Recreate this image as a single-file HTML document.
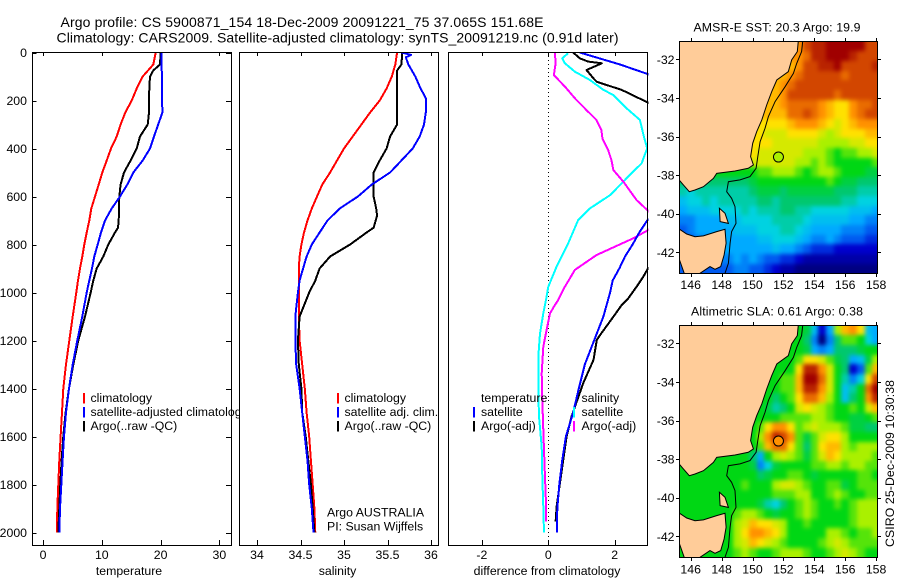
<!DOCTYPE html>
<html lang="en">
<head>
<meta charset="utf-8">
<title>Argo profile CS 5900871_154</title>
<style>
html,body{margin:0;padding:0;background:#fff;}
svg{display:block;}
text{font-family:"Liberation Sans",sans-serif;font-size:12.3px;fill:#000;}
.title{font-size:14px;}
.mid{text-anchor:middle;}
.end{text-anchor:end;}
</style>
</head>
<body>
<svg id="chart" xmlns="http://www.w3.org/2000/svg" width="900" height="580" viewBox="0 0 900 580">
  <defs>
    <clipPath id="clip-t"><rect x="32" y="52" width="199.5" height="493.5"/></clipPath>
    <clipPath id="clip-s"><rect x="239" y="52" width="200.5" height="493.5"/></clipPath>
    <clipPath id="clip-d"><rect x="448" y="52" width="200.5" height="493.5"/></clipPath>
    <clipPath id="clip-m1"><rect x="679" y="41.5" width="198.5" height="232"/></clipPath>
    <clipPath id="clip-m2"><rect x="679" y="325.5" width="198.5" height="232"/></clipPath>
    <filter id="field-smooth" filterUnits="userSpaceOnUse" x="650" y="15" width="250" height="565" color-interpolation-filters="sRGB">
      <feGaussianBlur stdDeviation="2.2"/>
    </filter>
  </defs>
  <rect x="0" y="0" width="900" height="580" fill="#fff"/>
  <text class="title" x="60.5" y="27" textLength="483">Argo profile: CS 5900871_154 18-Dec-2009 20091221_75 37.065S 151.68E</text>
  <text class="title" x="56.5" y="42.5" textLength="562">Climatology: CARS2009. Satellite-adjusted climatology: synTS_20091219.nc (0.91d later)</text>

  <g id="panel-t"></g>
  <g>
    <rect x="83" y="393" width="2" height="10.5" fill="#ff0000"/>
    <rect x="83" y="407" width="2" height="10.5" fill="#0000ff"/>
    <rect x="83" y="421" width="2" height="10.5" fill="#000"/>
    <text x="90.5" y="402">climatology</text>
    <text x="90.5" y="416">satellite-adjusted climatology</text>
    <text x="90.5" y="430">Argo(..raw -QC)</text>
  </g>

  <g id="panel-s"></g>
  <g>
    <rect x="337" y="393" width="2" height="10.5" fill="#ff0000"/>
    <rect x="337" y="407" width="2" height="10.5" fill="#0000ff"/>
    <rect x="337" y="421" width="2" height="10.5" fill="#000"/>
    <text x="344.5" y="402">climatology</text>
    <text x="344.5" y="416">satellite adj. clim.</text>
    <text x="344.5" y="430">Argo(..raw -QC)</text>
    <text x="327" y="516.5">Argo AUSTRALIA</text>
    <text x="327" y="530.5">PI: Susan Wijffels</text>
  </g>

  <g id="panel-d"></g>
  <g>
    <rect x="473" y="407" width="2" height="10.5" fill="#0000ff"/>
    <rect x="473" y="421" width="2" height="10.5" fill="#000"/>
    <rect x="573" y="407" width="2" height="10.5" fill="#00ffff"/>
    <rect x="573" y="421" width="2" height="10.5" fill="#ff00ff"/>
    <text x="481" y="402">temperature</text>
    <text x="481" y="416">satellite</text>
    <text x="481" y="430">Argo(-adj)</text>
    <text x="581.5" y="402">salinity</text>
    <text x="581.5" y="416">satellite</text>
    <text x="581.5" y="430">Argo(-adj)</text>
  </g>

  <g id="map-sst"></g>
  <g id="map-sla"></g>
  <text transform="translate(894,547) rotate(-90)" textLength="167">CSIRO 25-Dec-2009 10:30:38</text>
</svg>
<script>
// Depth levels shared by the temperature and salinity profiles (metres)
const depthLevels = [0,50,100,150,200,250,300,350,400,450,500,550,600,650,700,750,800,850,900,950,1000,1100,1200,1300,1400,1500,1600,1700,1800,1900,2000];

// Temperature profiles
const tempClimatology = [19.16,18.76,16.95,15.93,15.08,14.0,13.2,12.53,11.56,10.83,10.09,9.47,8.84,8.22,7.88,7.43,7.03,6.69,6.29,5.95,5.67,5.05,4.48,3.91,3.46,3.23,3.0,2.78,2.61,2.44,2.38];
const tempSatellite = [20.18,20.18,20.2,20.22,20.25,20.3,19.6,18.88,18.2,16.95,15.36,14.34,13.1,11.68,10.54,9.86,9.3,8.73,8.33,7.88,7.43,6.69,5.84,5.05,4.42,3.91,3.57,3.34,3.12,2.89,2.78];
const tempArgoDepth = [0,50,75,100,150,200,250,300,350,400,450,500,550,600,650,700,730,750,800,850,900,950,1000,1100,1200,1300,1400,1500,1600,1700,1800,1900,2000];
const tempArgo = [20.0,19.9,18.76,18.2,18.08,18.03,18.03,17.8,16.5,15.93,14.9,13.78,13.2,12.98,12.93,12.87,12.76,12.24,11.11,10.26,9.13,8.56,8.11,7.14,6.0,5.16,4.42,3.85,3.46,3.17,2.95,2.78,2.61];

// Salinity profiles
const salClimatology = [35.61,35.59,35.55,35.49,35.41,35.3,35.2,35.1,35.0,34.92,34.84,34.75,34.69,34.63,34.58,34.54,34.51,34.49,34.48,34.48,34.48,34.48,34.49,34.52,34.55,34.57,34.6,34.62,34.64,34.66,34.67];
const salSatDepth = [0,10,20,50,100,150,190,250,300,350,400,450,500,550,600,650,700,750,800,850,900,950,1000,1100,1200,1300,1400,1500,1600,1700,1800,1900,2000];
const salSatellite = [35.66,35.77,35.71,35.74,35.82,35.88,35.94,35.94,35.92,35.87,35.79,35.66,35.53,35.32,35.16,34.95,34.81,34.72,34.63,34.57,34.53,34.49,34.47,34.44,34.44,34.45,34.49,34.52,34.55,34.58,34.6,34.63,34.65];
const salArgoDepth = [0,50,75,150,200,250,300,350,400,450,500,550,600,650,680,730,750,800,850,900,950,1000,1100,1200,1300,1400,1500,1600,1700,1800,1900,2000];
const salArgo = [35.67,35.66,35.61,35.61,35.61,35.61,35.61,35.53,35.49,35.41,35.34,35.34,35.34,35.37,35.38,35.34,35.26,35.07,34.84,34.72,34.67,34.6,34.49,34.47,34.48,34.51,34.52,34.56,34.59,34.62,34.64,34.66];

// Differences from climatology
const diffTempSatDepth = [0,50,90,100,150,200,250,300,350,400,450,500,550,600,650,700,750,800,850,900,950,1000,1100,1200,1300,1400,1500,1600,1700,1800,1900,2000];
const diffTempSat = [0.95,2.16,3.0,3.2,4.37,5.12,6.3,6.0,6.35,6.64,6.12,5.27,4.87,4.26,3.46,2.98,2.74,2.54,2.31,2.14,1.94,1.86,1.66,1.38,1.1,0.92,0.75,0.53,0.42,0.33,0.27,0.26];
const diffTempArgoDepth = [0,24,38,45,73,108,122,156,209,300,500,800,900,934,976,1024,1052,1101,1177,1198,1281,1378,1517,1601,1700,1795,1893,1955];
const diffTempArgo = [0.75,0.95,1.2,1.61,1.15,1.36,1.46,2.21,3.01,4.6,3.7,4.1,3.0,2.86,2.66,2.41,2.21,1.96,1.56,1.46,1.36,1.05,0.7,0.55,0.45,0.35,0.25,0.22];
const diffSalSatDepth = [3,24,45,80,115,156,177,233,281,351,399,462,503,545,594,649,698,795,892,976,1031,1087,1171,1267,1406,1517,1643,1767,1893,2000];
const diffSalSat = [0.6,0.42,0.5,0.8,1.26,1.66,1.96,2.36,2.76,2.88,2.98,2.81,2.51,2.21,1.86,1.26,0.9,0.6,0.25,0,-0.07,-0.15,-0.25,-0.3,-0.3,-0.28,-0.2,-0.18,-0.15,-0.13];
const diffSalArgoDepth = [1,45,94,142,191,240,281,323,358,406,448,490,538,615,660,700,740,774,844,906,976,1031,1052,1087,1156,1226,1337,1448,1573,1726,1879,1955];
const diffSalArgo = [0.2,0.22,0.17,0.5,0.8,1.15,1.45,1.6,1.63,1.8,1.9,1.96,2.26,2.66,3.01,3.3,3.01,2.56,1.45,0.8,0.5,0.3,0.2,0.05,-0.05,-0.15,-0.2,-0.18,-0.15,-0.11,-0.07,-0.07];

// Tick labels
const depthTicks = [0,200,400,600,800,1000,1200,1400,1600,1800,2000];
const tempTicks = [0,10,20,30];
const salTicks = ["34","34.5","35","35.5","36"];
const diffTicks = [-2,0,2];
const lonTicks = [146,148,150,152,154,156,158];
const latTicks = [-32,-34,-36,-38,-40,-42];

// Map fields: colour level per half-degree cell, rows north to south, columns west to east
const sstLevels = [
[18,18,18,18,18,18,18,18,18,18,18,18,18,18,18,18,20,21,21,22,22,22,22,22,20,20],
[18,18,18,18,18,18,18,18,18,18,18,18,18,18,18,18,19,21,21,22,22,22,21,20,20,20],
[18,18,18,18,18,18,18,18,18,18,18,18,18,18,17,18,20,20,21,21,22,20,20,20,20,21],
[17,17,17,17,17,17,17,17,17,17,17,17,17,17,18,19,20,20,20,20,20,19,20,20,20,20],
[17,17,17,17,17,17,17,17,17,17,17,17,17,18,19,20,20,20,20,20,20,20,20,20,20,20],
[17,17,17,17,17,17,17,17,17,17,17,17,17,18,20,20,20,20,20,20,19,20,20,20,20,20],
[17,17,17,17,17,17,17,17,17,17,17,17,17,18,19,19,19,19,18,17,16,16,18,19,19,20],
[17,17,17,17,17,17,17,17,17,17,17,17,17,17,19,19,20,19,18,17,16,16,18,19,20,20],
[16,16,16,16,16,16,16,16,16,16,16,16,16,16,17,18,18,18,17,16,15,16,17,18,18,18],
[16,16,16,16,16,16,16,16,16,16,16,15,15,15,16,16,16,16,15,14,15,16,16,16,17,17],
[16,16,16,16,16,16,16,16,16,16,16,16,15,15,15,15,15,15,14,14,14,14,15,15,16,16],
[15,15,15,15,15,15,15,15,15,16,15,15,15,15,15,15,14,14,14,13,12,13,13,14,14,15],
[15,15,15,15,15,15,15,15,15,15,15,15,15,15,15,14,14,13,14,13,12,12,12,12,12,13],
[12,12,12,12,12,12,12,12,12,12,13,13,14,14,14,13,12,13,14,14,13,12,12,12,11,11],
[10,10,10,10,10,10,10,10,10,11,12,12,12,12,12,12,12,12,12,13,12,11,11,10,10,10],
[9,8,9,9,9,9,9,9,9,10,11,11,11,10,11,11,11,11,11,11,10,10,10,9,9,9],
[7,8,8,9,8,9,9,9,9,9,10,10,9,10,10,10,10,10,10,10,10,9,9,8,8,8],
[6,7,7,7,8,8,8,8,9,8,9,9,9,10,10,9,9,8,8,8,8,8,7,7,7,6],
[5,5,6,6,6,6,7,7,8,8,8,8,9,9,9,9,8,7,7,7,7,7,6,6,5,5],
[4,5,6,6,6,6,6,7,7,7,8,8,8,9,9,8,7,6,6,6,6,5,5,5,4,4],
[4,4,5,5,6,6,6,6,6,6,7,7,8,8,8,7,6,5,5,6,5,4,4,4,3,3],
[6,6,6,6,6,6,6,6,6,6,6,6,7,6,6,5,4,3,3,3,2,2,2,2,2,2],
[5,5,5,5,5,5,5,6,5,6,5,4,4,3,3,2,1,1,1,1,1,1,1,1,1,1],
[4,4,4,4,4,4,4,5,5,4,4,3,2,1,1,0,0,0,0,0,0,0,0,0,0,0]
];
const slaLevels = [
[12,12,12,12,12,12,12,12,12,12,12,12,12,12,12,12,11,7,2,6,14,17,18,16,7,6],
[12,12,12,12,12,12,12,12,12,12,12,12,12,12,12,12,10,5,0,5,10,13,13,12,8,6],
[12,12,12,12,12,12,12,12,12,12,12,12,12,12,12,12,11,6,5,6,10,10,10,11,12,12],
[12,12,12,12,12,12,12,12,12,12,12,12,12,12,12,13,16,16,15,13,11,10,6,7,11,14],
[12,12,12,12,12,12,12,12,12,12,12,12,12,12,12,16,21,21,18,15,12,10,2,4,13,17],
[12,12,12,12,12,12,12,12,12,12,12,12,12,13,13,17,22,22,19,15,12,9,5,8,16,20],
[12,12,12,12,12,12,12,12,12,12,12,12,12,13,13,17,21,21,18,15,12,7,9,12,19,22],
[12,12,12,12,12,12,12,12,12,12,12,12,10,12,13,16,19,19,17,14,12,7,10,12,18,21],
[12,12,12,12,12,12,12,12,12,12,12,11,9,10,12,15,16,15,14,13,12,12,13,12,15,17],
[12,12,12,12,12,12,12,12,12,12,12,12,12,13,13,13,13,14,14,13,12,12,11,11,12,13],
[12,12,12,12,12,12,12,12,12,12,13,16,18,18,16,13,14,15,14,14,14,13,11,11,10,10],
[12,12,12,12,12,12,12,12,12,12,14,18,21,20,18,13,11,13,15,16,16,14,12,12,12,12],
[12,12,12,12,12,12,12,12,12,12,13,17,19,19,16,13,10,13,16,17,17,14,13,14,14,14],
[12,12,12,12,12,12,12,12,12,10,6,12,14,15,14,13,11,13,15,17,16,14,14,14,14,13],
[12,12,12,12,12,12,12,12,12,11,5,8,11,12,12,12,12,13,13,14,14,13,14,14,13,13],
[12,12,12,12,12,12,12,12,12,12,10,11,12,12,13,13,12,11,12,12,12,12,12,13,13,12],
[12,12,12,12,12,12,12,12,13,12,12,12,14,15,15,14,13,12,12,13,13,11,12,13,13,13],
[12,12,12,12,12,12,12,12,12,12,12,12,13,13,13,14,14,12,12,13,14,13,12,12,13,13],
[12,12,12,12,12,12,12,12,12,12,11,9,8,10,12,13,14,13,12,12,13,12,13,14,14,14],
[12,12,12,12,12,12,12,13,14,14,13,12,11,12,12,13,14,13,12,12,12,12,13,14,14,14],
[12,12,12,12,12,12,12,14,15,17,16,16,15,14,12,12,13,12,12,12,12,12,13,14,14,14],
[12,12,12,12,12,12,12,14,16,18,18,17,16,14,12,12,12,12,12,14,14,13,12,13,13,14],
[12,12,12,12,12,12,12,14,15,17,16,15,14,13,12,12,12,12,13,14,15,14,13,13,13,13],
[12,12,12,12,12,12,12,13,14,13,12,12,13,14,14,14,13,12,12,13,14,15,14,13,12,12]
];
const sstMarkerLevel = [14];
const slaMarkerLevel = [18];
const profileLon = [151.68];
const profileLat = [-37.065];

// Geography
const mainlandLon = [145.2,152.97,152.9,152.54,152.32,151.57,151.24,150.92,150.6,150.27,150.01,149.88,150.06,149.73,148.87,147.68,147.47,146.82,146.28,145.91,145.53,145.2];
const mainlandLat = [-31,-31,-31.6,-32.03,-32.64,-33.07,-33.68,-34.37,-35.14,-35.75,-36.35,-37.04,-37.47,-37.65,-37.79,-37.91,-38.17,-38.6,-38.77,-38.86,-38.51,-38.2];
const tasmaniaLon = [145.2,145.74,146.28,146.82,147.68,148.22,148.29,148.16,147.94,147.57,147.25,146.39,145.63,145.35,145.2];
const tasmaniaLat = [-40.76,-41.05,-41.19,-41.15,-40.93,-40.81,-41.53,-42.14,-42.74,-42.88,-42.74,-43.2,-43.2,-42.57,-42.22];
const flindersLon = [147.86,148.22,148.44,147.9];
const flindersLat = [-39.72,-39.98,-40.5,-40.41];
const isobathLon = [153.25,153.18,152.86,152.65,152.11,151.46,151.03,150.81,150.49,150.34,150.23,149.84,149.19,148.44,148.33,148.65,148.87,148.93,148.65,148.55,148.44,148.22];
const isobathLat = [-31.08,-31.6,-32.21,-32.73,-33.42,-34.19,-34.97,-35.58,-36.27,-37.04,-37.65,-38.08,-38.25,-38.34,-38.86,-39.2,-39.63,-40.5,-40.93,-41.53,-42.57,-43.09];

// Colour ramp for the map levels
const rampLevels = [0,2,4,6,8,10,12,14,16,18,20,22];
const rampColors = [[0,0,130],[0,0,205],[0,90,240],[0,170,255],[0,210,225],[0,200,110],[0,215,20],[170,240,0],[255,225,0],[255,145,0],[210,70,0],[160,0,0]];

const NS = 'http://www.w3.org/2000/svg';
function make(tag, attrs, parent) {
  const el = document.createElementNS(NS, tag);
  for (const k in attrs) el.setAttribute(k, attrs[k]);
  parent.appendChild(el);
  return el;
}
function levelColor(v) {
  let i = 0;
  while (i < rampLevels.length - 2 && v > rampLevels[i + 1]) i++;
  const f = Math.min(1, Math.max(0, (v - rampLevels[i]) / (rampLevels[i + 1] - rampLevels[i])));
  const a = rampColors[i], b = rampColors[i + 1];
  return 'rgb(' + a.map((c, n) => Math.round(c + (b[n] - c) * f)).join(',') + ')';
}

// Axis functions
const yDepth = d => 52.5 + 0.24 * d;
const xTemp = t => 43 + 5.88 * t;
const xSal = s => 257 + 87 * (s - 34);
const xDiff = v => 548.3 + 33.2 * v;
const xLon = l => 690.7 + 15.45 * (l - 146);
const yLat1 = l => 59.3 + 19.3 * (-32 - l);
const yLat2 = l => 343.3 + 19.3 * (-32 - l);

function drawProfile(parent, depths, values, xFn, color, clip, width, name) {
  const pts = depths.map((d, i) => xFn(values[i]).toFixed(1) + ',' + yDepth(d).toFixed(1)).join(' ');
  const el = make('polyline', {points: pts, fill: 'none', stroke: color, 'stroke-width': width, 'clip-path': 'url(#' + clip + ')', 'shape-rendering': 'crispEdges', 'stroke-linejoin': 'round'}, parent);
  
  
}

function drawFrame(parent, left, xFn, labels, axisTitle, titleX, sideTicks) {
  const right = left + 199, top = 52, bottom = 545;
  const bg = make('rect', {x: left + 0.5, y: top + 0.5, width: 199, height: 493, fill: '#fff'}, parent);
  
  
  const grid = make('g', {}, parent);
  
  
  labels.forEach(lbl => {
    const x = Math.round(xFn(Number(lbl))) + 0.5;
    const t1 = make('line', {x1: x, x2: x, y1: top, y2: top + 4, stroke: '#000', 'shape-rendering': 'crispEdges'}, grid);
    
    
    const t2 = make('line', {x1: x, x2: x, y1: bottom, y2: bottom - 5, stroke: '#000', 'shape-rendering': 'crispEdges'}, grid);
    
    
    const tx = make('text', {x: xFn(Number(lbl)), y: 559, class: 'mid'}, parent);
    tx.textContent = lbl;
    
    
  });
  if (sideTicks) {
    depthTicks.forEach(d => {
      const y = Math.round(yDepth(d)) + 0.5;
      const t1 = make('line', {x1: left, x2: left + 4.5, y1: y, y2: y, stroke: '#000', 'shape-rendering': 'crispEdges'}, grid);
      
      
      const t2 = make('line', {x1: right, x2: right - 5, y1: y, y2: y, stroke: '#000', 'shape-rendering': 'crispEdges'}, grid);
      
      
      const tx = make('text', {x: 27, y: yDepth(d) + 4.5, class: 'end'}, parent);
      tx.textContent = d;
      
      
    });
  }
  const ttl = make('text', {x: titleX, y: 575, class: 'mid'}, parent);
  ttl.textContent = axisTitle;
  
  
}

function drawBorder(parent, left) {
  const b = make('rect', {x: left + 0.5, y: 52.5, width: 199, height: 493, fill: 'none', stroke: '#000', 'stroke-width': 1, 'shape-rendering': 'crispEdges'}, parent);
  
  
}

function drawMap(parent, grid, yLat, clip, top, title, titleLen, titleY, labelY, markerLevel, cellName) {
  const clipGroup = make('g', {'clip-path': 'url(#' + clip + ')'}, parent);
  
  
  const cells = make('g', {filter: 'url(#field-smooth)', 'shape-rendering': 'crispEdges'}, clipGroup);
  
  
  const lastRow = grid.length - 1;
  grid.forEach((row, r) => {
    row.forEach((v, c) => {
      const lon0 = 145.26 + 0.5 * c, lat0 = -31.09 - 0.5 * r;
      const x0 = Math.round(xLon(lon0)) - (c === 0 ? 12 : 0);
      const x1 = Math.round(xLon(lon0 + 0.5)) + (c === row.length - 1 ? 12 : 0);
      const y0 = Math.round(yLat(lat0)) - (r === 0 ? 12 : 0);
      const y1 = Math.round(yLat(lat0 - 0.5)) + (r === lastRow ? 12 : 0);
      const cell = make('rect', {x: x0, y: y0, width: x1 - x0, height: y1 - y0, fill: levelColor(v)}, cells);
      
      
    });
  });
  const toPts = (lons, lats) => lons.map((l, i) => xLon(l).toFixed(1) + ',' + yLat(lats[i]).toFixed(1)).join(' ');
  const geo = make('g', {'clip-path': 'url(#' + clip + ')'}, parent);
  
  
  const main = make('polygon', {points: toPts(mainlandLon, mainlandLat), fill: '#ffcc99', stroke: '#000', 'stroke-width': 1}, geo);
  
  
  const tas = make('polygon', {points: toPts(tasmaniaLon, tasmaniaLat), fill: '#ffcc99', stroke: '#000', 'stroke-width': 1}, geo);
  
  
  const fl = make('polygon', {points: toPts(flindersLon, flindersLat), fill: '#ffcc99', stroke: '#000', 'stroke-width': 1}, geo);
  
  
  const iso = make('polyline', {points: toPts(isobathLon, isobathLat), fill: 'none', stroke: '#000', 'stroke-width': 1}, geo);
  
  
  const mk = make('circle', {cx: xLon(profileLon[0]), cy: yLat(profileLat[0]), r: 5, fill: levelColor(markerLevel[0]), stroke: '#000', 'stroke-width': 1}, parent);
  
  
  const frame = make('rect', {x: 679.5, y: top + 0.5, width: 198, height: 232, fill: 'none', stroke: '#000', 'shape-rendering': 'crispEdges'}, parent);
  
  
  lonTicks.forEach(l => {
    const x = Math.round(xLon(l)) + 0.5;
    const t1 = make('line', {x1: x, x2: x, y1: top, y2: top - 3, stroke: '#000', 'shape-rendering': 'crispEdges'}, parent);
    
    
    const t2 = make('line', {x1: x, x2: x, y1: top + 233, y2: top + 236, stroke: '#000', 'shape-rendering': 'crispEdges'}, parent);
    
    
    const tx = make('text', {x: xLon(l), y: labelY, class: 'mid'}, parent);
    tx.textContent = l;
    
    
  });
  latTicks.forEach(l => {
    const y = Math.round(yLat(l)) + 0.5;
    const t1 = make('line', {x1: 679, x2: 676, y1: y, y2: y, stroke: '#000', 'shape-rendering': 'crispEdges'}, parent);
    
    
    const t2 = make('line', {x1: 878, x2: 881, y1: y, y2: y, stroke: '#000', 'shape-rendering': 'crispEdges'}, parent);
    
    
    const tx = make('text', {x: 674.5, y: yLat(l) + 4.5, class: 'end'}, parent);
    tx.textContent = l;
    
    
  });
  const tt = make('text', {x: 777, y: titleY, class: 'mid', textLength: titleLen}, parent);
  tt.textContent = title;
  
  
}

const pT = document.getElementById('panel-t');
const pS = document.getElementById('panel-s');
const pD = document.getElementById('panel-d');

drawFrame(pT, 32, xTemp, tempTicks, 'temperature', 129, true);
drawProfile(pT, depthLevels, tempClimatology, xTemp, '#ff0000', 'clip-t', 2, 'temperature-climatology-line');
drawProfile(pT, tempArgoDepth, tempArgo, xTemp, '#000000', 'clip-t', 2, 'temperature-argo-line');
drawProfile(pT, depthLevels, tempSatellite, xTemp, '#0000ff', 'clip-t', 2, 'temperature-satellite-line');
drawBorder(pT, 32);

drawFrame(pS, 239, xSal, salTicks, 'salinity', 337.5, false);
drawProfile(pS, depthLevels, salClimatology, xSal, '#ff0000', 'clip-s', 2, 'salinity-climatology-line');
drawProfile(pS, salArgoDepth, salArgo, xSal, '#000000', 'clip-s', 2, 'salinity-argo-line');
drawProfile(pS, salSatDepth, salSatellite, xSal, '#0000ff', 'clip-s', 2, 'salinity-satellite-line');
drawBorder(pS, 239);

drawFrame(pD, 448, xDiff, diffTicks, 'difference from climatology', 547, false);
const zeroLine = make('line', {x1: xDiff(0), x2: xDiff(0), y1: 52, y2: 545, stroke: '#000', 'stroke-dasharray': '1 3', 'shape-rendering': 'crispEdges'}, pD);


drawProfile(pD, diffSalSatDepth, diffSalSat, xDiff, '#00ffff', 'clip-d', 2, 'salinity-satellite-diff-line');
drawProfile(pD, diffSalArgoDepth, diffSalArgo, xDiff, '#ff00ff', 'clip-d', 2, 'salinity-argo-diff-line');
drawProfile(pD, diffTempArgoDepth, diffTempArgo, xDiff, '#000000', 'clip-d', 2, 'temperature-argo-diff-line');
drawProfile(pD, diffTempSatDepth, diffTempSat, xDiff, '#0000ff', 'clip-d', 2, 'temperature-satellite-diff-line');
drawBorder(pD, 448);

drawMap(document.getElementById('map-sst'), sstLevels, yLat1, 'clip-m1', 41, 'AMSR-E SST: 20.3 Argo: 19.9', 167, 31.5, 289, sstMarkerLevel, 'sst-cell');
drawMap(document.getElementById('map-sla'), slaLevels, yLat2, 'clip-m2', 325, 'Altimetric SLA: 0.61 Argo: 0.38', 172, 315.5, 573.5, slaMarkerLevel, 'sla-cell');
</script>
</body>
</html>
